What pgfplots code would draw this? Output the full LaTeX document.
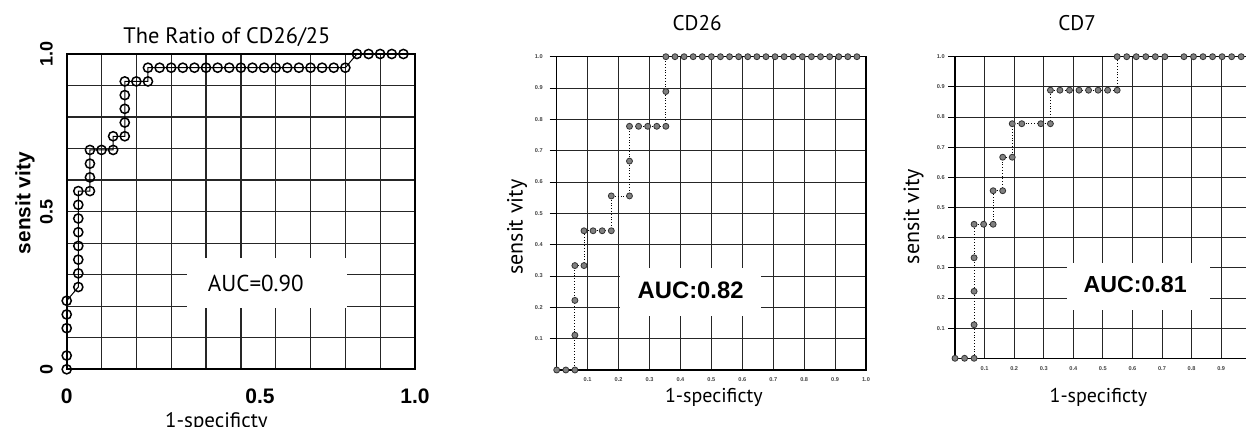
\documentclass[border=0pt]{standalone}
\usepackage{fontspec}
\usepackage{pgfplots}
\pgfplotsset{compat=1.18}
\setmainfont{PT Sans}
\newfontfamily\arialf{Liberation Sans}

\pgfplotsset{
  every axis title shift=0pt,
  rocbase/.style={
    scale only axis, anchor=south west,
    xmin=0, xmax=1, ymin=0, ymax=1,
    clip marker paths=false,
  },
  smallroc/.style={
    rocbase,
    axis line style={line width=0.7pt, black},
    xtick={0.1,0.2,0.3,0.4,0.5,0.6,0.7,0.8,0.9,1.0},
    xticklabels={0.1,0.2,0.3,0.4,0.5,0.6,0.7,0.8,0.9,1.0},
    ytick={0.1,0.2,0.3,0.4,0.5,0.6,0.7,0.8,0.9,1.0},
    yticklabels={0.1,0.2,0.3,0.4,0.5,0.6,0.7,0.8,0.9,1.0},
    tick pos=left, tick align=outside, major tick length=3.5pt,
    xtick style={draw=none},
    ytick style={line width=0.45pt, black},
    grid=major, major grid style={black!85, line width=0.45pt},
    ticklabel style={font=\arialf\bfseries\fontsize{2.8}{3}\selectfont, text=black!75, inner sep=0pt},
    xticklabel style={anchor=north},
    yticklabel style={anchor=east},
    title style={anchor=center, yshift=0pt, inner sep=0pt, font=\fontsize{10.6}{12}\selectfont},
    xlabel style={anchor=center, inner sep=0pt, font=\fontsize{10}{12}\selectfont},
    ylabel style={anchor=center, inner sep=0pt, font=\fontsize{11}{12}\selectfont},
  },
  dotline/.style={black, line width=0.4pt, densely dotted,
    mark=*, mark size=1.5pt,
    mark options={solid, fill=black!50, draw=black!80, line width=0.4pt}},
}

\begin{document}
\begin{tikzpicture}
\path[use as bounding box] (0,0) rectangle (623pt,213.5pt);

% Ratio of CD26/25
\begin{axis}[
  rocbase,
  at={(33.35pt,28.85pt)}, width=174.15pt, height=157.65pt,
  axis line style={line width=0.9pt, black},
  xtick={0,0.555,1}, xticklabels={0,0.5,1.0},
  ytick={0,0.5,1}, yticklabels={0,0.5,1.0},
  major tick length=0pt, minor tick length=0pt,
  minor xtick={0.1,0.2,0.3,0.4,0.5,0.6,0.7,0.8,0.9},
  minor ytick={0.1,0.2,0.3,0.4,0.5,0.6,0.7,0.8,0.9},
  grid=minor, minor grid style={black!85, line width=0.65pt},
  xticklabel style={font=\arialf\bfseries\fontsize{10.5}{12}\selectfont, anchor=north, inner sep=0pt, yshift=-9.5pt},
  yticklabel style={font=\arialf\bfseries\fontsize{9}{10}\selectfont, xshift=-6.8pt, rotate=90, anchor=south, inner sep=0pt},
  title={The Ratio of CD26/25},
  title style={at={(0.46,1.054)}, anchor=center, yshift=0pt, inner sep=0pt, font=\fontsize{11.2}{12}\selectfont},
  xlabel={1-specificty},
  xlabel style={at={(axis description cs:0.43,-0.135)}, anchor=north, inner sep=0pt, font=\fontsize{10.5}{12}\selectfont},
  ylabel={sensit vity},
  ylabel style={at={(axis description cs:-0.12,0.527)}, anchor=center, inner sep=0pt, font=\arialf\bfseries\fontsize{10.4}{12}\selectfont},
]
\fill[white] (axis cs:0.344,0.193) rectangle (axis cs:0.804,0.352);
\node[font=\fontsize{11.5}{13}\selectfont] at (axis cs:0.543,0.273) {AUC=0.90};
\addplot[black, line width=0.5pt, mark=o, mark size=2.3pt, mark options={line width=0.75pt}] coordinates {
(0,0) (0,0.0435) (0,0.1304) (0,0.1739) (0,0.2174)
(0.0333,0.2609) (0.0333,0.3043) (0.0333,0.3478) (0.0333,0.3913) (0.0333,0.4348)
(0.0333,0.4783) (0.0333,0.5217) (0.0333,0.5652)
(0.0667,0.5652) (0.0667,0.6087) (0.0667,0.6522) (0.0667,0.6957)
(0.1,0.6957) (0.1333,0.6957) (0.1333,0.7391)
(0.1667,0.7391) (0.1667,0.7826) (0.1667,0.8261) (0.1667,0.8696) (0.1667,0.9130)
(0.2,0.9130) (0.2333,0.9130) (0.2333,0.9565)
(0.2667,0.9565) (0.3,0.9565) (0.3333,0.9565) (0.3667,0.9565) (0.4,0.9565)
(0.4333,0.9565) (0.4667,0.9565) (0.5,0.9565) (0.5333,0.9565) (0.5667,0.9565)
(0.6,0.9565) (0.6333,0.9565) (0.6667,0.9565) (0.7,0.9565) (0.7333,0.9565)
(0.7667,0.9565) (0.8,0.9565)
(0.8333,1) (0.8667,1) (0.9,1) (0.9333,1) (0.9667,1)
};
\end{axis}

% CD26
\begin{axis}[
  smallroc,
  at={(278.35pt,28.5pt)}, width=154.65pt, height=156.65pt,
  title={CD26}, title style={at={(0.454,1.108)}},
  xlabel={1-specificty}, xlabel style={at={(axis description cs:0.508,-0.086)}},
  ylabel={sensit vity}, ylabel style={at={(axis description cs:-0.128,0.456)}},
  yticklabel style={xshift=-3.3pt},
]
\fill[white] (axis cs:0.204,0.172) rectangle (axis cs:0.661,0.327);
\node[font=\arialf\bfseries\fontsize{11.9}{13}\selectfont] at (axis cs:0.433,0.255) {AUC:0.82};
\addplot[dotline] coordinates {
(0,0) (0.0294,0) (0.0588,0) (0.0588,0.1111) (0.0588,0.2222) (0.0588,0.3333)
(0.0882,0.3333) (0.0882,0.4444) (0.1176,0.4444) (0.1471,0.4444) (0.1765,0.4444)
(0.1765,0.5556) (0.2353,0.5556) (0.2353,0.6667) (0.2353,0.7778)
(0.2647,0.7778) (0.2941,0.7778) (0.3235,0.7778) (0.3529,0.7778)
(0.3529,0.8889) (0.3529,1)
(0.3824,1) (0.4118,1) (0.4412,1) (0.4706,1) (0.5,1) (0.5294,1) (0.5588,1)
(0.5882,1) (0.6176,1) (0.6471,1) (0.6765,1) (0.7059,1) (0.7353,1) (0.7647,1)
(0.7941,1) (0.8235,1) (0.8529,1) (0.8824,1) (0.9118,1) (0.9412,1) (0.9706,1)
};
\end{axis}

% CD7
\begin{axis}[
  smallroc,
  at={(477.5pt,34.35pt)}, width=147.85pt, height=150.8pt,
  xticklabels={0.1,0.2,0.3,0.4,0.5,0.6,0.7,0.8,0.9,},
  title={CD7}, title style={at={(0.413,1.112)}},
  xlabel={1-specificty}, xlabel style={at={(axis description cs:0.485,-0.13)}},
  ylabel={sensit vity}, ylabel style={at={(axis description cs:-0.140,0.47)}},
  yticklabel style={xshift=-1.5pt},
  xticklabel style={yshift=-0.3pt},
]
\fill[white] (axis cs:0.378,0.16) rectangle (axis cs:0.862,0.315);
\node[font=\arialf\bfseries\fontsize{11.6}{13}\selectfont] at (axis cs:0.609,0.243) {AUC:0.81};
\addplot[dotline] coordinates {
(0,0) (0.0323,0) (0.0645,0) (0.0645,0.1111) (0.0645,0.2222) (0.0645,0.3333)
(0.0645,0.4444) (0.0968,0.4444) (0.1290,0.4444) (0.1290,0.5556) (0.1613,0.5556)
(0.1613,0.6667) (0.1935,0.6667) (0.1935,0.7778) (0.2258,0.7778) (0.2903,0.7778)
(0.3226,0.7778) (0.3226,0.8889) (0.3548,0.8889) (0.3871,0.8889) (0.4194,0.8889)
(0.4516,0.8889) (0.4839,0.8889) (0.5161,0.8889) (0.5484,0.8889) (0.5484,1)
(0.5806,1) (0.6129,1) (0.6452,1) (0.6774,1) (0.7097,1)
(0.7742,1) (0.8065,1) (0.8387,1) (0.8710,1) (0.9032,1) (0.9355,1) (0.9677,1)
};
\end{axis}
\end{tikzpicture}
\end{document}
